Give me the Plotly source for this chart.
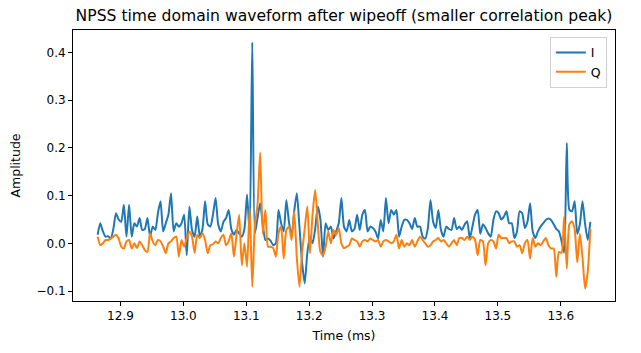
import numpy as np
import plotly.graph_objects as go

# Sample timing (ms)
t_start = 12.8637
t_step = 1.0 / 240.0

I_vals = [
    0.018, 0.042, 0.025, 0.014, 0.015, 0.010, 0.030, 0.063, 0.050, 0.045,
    0.081, 0.014, 0.081, 0.014, 0.042, 0.035, 0.053, 0.028, 0.030, 0.053,
    0.014, 0.035, 0.028, 0.063, 0.088, 0.025, 0.042, 0.060, 0.105, 0.025,
    0.042, 0.035, 0.042, 0.060, -0.025, 0.077, 0.028, 0.014, 0.056, 0.014,
    0.030, 0.088, 0.040, 0.035, 0.060, 0.095, 0.040, 0.025, 0.045, 0.053,
    0.070, 0.030, 0.018, 0.028, 0.021, 0.014, 0.030, 0.102, 0.021, 0.421,
    0.021, 0.053, 0.084, 0.040, 0.007, 0.010, 0.005, -0.004, 0.000, 0.070,
    0.042, 0.025, 0.091, 0.045, 0.014, 0.067, 0.105, 0.035, -0.040, -0.084,
    -0.020, 0.014, 0.000, 0.030, 0.077, 0.050, -0.028, 0.042, 0.028, 0.035,
    0.010, 0.025, 0.042, 0.095, 0.035, 0.025, 0.049, 0.025, 0.030, 0.060,
    0.028, 0.060, 0.070, 0.025, 0.035, 0.032, 0.025, 0.010, 0.049, 0.025,
    0.095, 0.042, 0.070, 0.060, 0.070, 0.014, 0.035, 0.049, 0.049, 0.042,
    0.030, 0.053, 0.035, 0.035, 0.014, 0.010, 0.032, 0.091, 0.045, 0.032,
    0.070, 0.028, 0.014, 0.035, 0.030, 0.028, 0.053, 0.030, 0.035, 0.028,
    0.039, 0.046, 0.010, 0.035, 0.060, 0.070, 0.020, 0.040, 0.032, 0.021,
    0.014, 0.049, 0.067, 0.063, 0.050, 0.056, 0.067, 0.042, 0.042, 0.011,
    0.025, 0.067, 0.063, 0.032, 0.045, 0.084, 0.025, 0.011, 0.025, 0.035,
    0.042, 0.049, 0.052, 0.049, 0.040, 0.030, 0.025, 0.005, -0.020, 0.210,
    0.070, 0.067, 0.088, 0.020, 0.040, 0.088, 0.040, 0.007, 0.045,
]

Q_vals = [
    0.014, -0.004, 0.000, 0.007, 0.007, 0.010, 0.014, 0.018, 0.010, -0.007,
    -0.011, 0.004, 0.007, -0.011, 0.000, -0.010, 0.004, -0.004, -0.014, -0.018,
    0.021, 0.004, -0.004, 0.007, 0.004, -0.007, -0.021, 0.000, 0.004, 0.011,
    0.014, -0.028, 0.007, -0.007, 0.011, 0.025, 0.014, -0.020, 0.018, 0.011,
    0.021, 0.007, -0.021, -0.004, -0.002, 0.004, 0.000, 0.011, 0.018, -0.004,
    0.004, 0.021, -0.028, 0.018, 0.060, -0.046, 0.000, -0.049, 0.074, -0.091,
    0.039, 0.080, 0.190, 0.020, 0.070, -0.007, -0.007, -0.010, -0.028, 0.021,
    0.035, -0.032, 0.028, 0.035, 0.007, 0.067, -0.030, -0.091, -0.020, 0.030,
    0.077, -0.021, 0.060, 0.112, 0.040, -0.018, -0.025, -0.007, 0.025, 0.000,
    0.028, 0.018, 0.032, 0.000, -0.010, -0.007, -0.004, 0.010, 0.007, 0.004,
    -0.007, 0.004, 0.007, 0.004, 0.010, 0.007, 0.004, 0.007, -0.007, 0.004,
    0.007, 0.004, 0.000, 0.004, 0.018, -0.011, 0.007, -0.007, 0.000, -0.004,
    0.007, -0.007, 0.004, 0.014, 0.007, 0.000, -0.007, -0.004, 0.004, 0.007,
    0.011, 0.004, 0.007, 0.000, -0.007, 0.000, 0.007, -0.004, 0.011, 0.011,
    0.007, 0.014, 0.007, 0.014, 0.007, -0.025, 0.007, 0.004, -0.046, 0.000,
    0.007, 0.004, -0.011, 0.018, 0.011, 0.011, 0.011, 0.000, 0.004, 0.004,
    -0.007, -0.004, -0.021, 0.000, 0.007, -0.032, 0.011, -0.007, 0.000, -0.004,
    0.004, 0.011, -0.004, -0.011, -0.011, -0.070, -0.018, -0.020, 0.056, -0.053,
    0.040, 0.046, 0.030, -0.040, 0.020, -0.030, -0.095, -0.060, 0.030,
]

series_names = ["I", "Q"]
series_colors = ["#1f77b4", "#ff7f0e"]

x_tick_vals = [12.9, 13.0, 13.1, 13.2, 13.3, 13.4, 13.5, 13.6]
x_tick_text = ["12.9", "13.0", "13.1", "13.2", "13.3", "13.4", "13.5", "13.6"]
y_tick_vals = [-0.1, 0.0, 0.1, 0.2, 0.3, 0.4]
y_tick_text = ["\u22120.1", "0.0", "0.1", "0.2", "0.3", "0.4"]

title_text = "NPSS time domain waveform after wipeoff (smaller correlation peak)"
x_label = "Time (ms)"
y_label = "Amplitude"

n = min(len(I_vals), len(Q_vals))
t = t_start + t_step * np.arange(n)
I = np.array(I_vals[:n])
Q = np.array(Q_vals[:n])

fig = go.Figure()
for name, vals, col in zip(series_names, [I, Q], series_colors):
    fig.add_trace(go.Scatter(x=t, y=vals, mode="lines", name=name,
                             line=dict(color=col, width=2, shape="spline", smoothing=0.6)))

# matplotlib-like 5% margins
xmin, xmax = t.min(), t.max()
ymin = min(I.min(), Q.min())
ymax = max(I.max(), Q.max())
xpad = 0.05 * (xmax - xmin)
ypad = 0.05 * (ymax - ymin)

font_family = "DejaVu Sans"
axis_common = dict(showline=True, mirror=True, linecolor="black", linewidth=1,
                   ticks="outside", ticklen=4, tickcolor="black", showgrid=False,
                   zeroline=False, tickfont=dict(size=12, color="black", family=font_family))

fig.update_layout(
    width=641, height=353,
    margin=dict(l=73, r=26, t=30, b=52),
    paper_bgcolor="white", plot_bgcolor="white",
    font=dict(family=font_family, color="black"),
    title=dict(text=title_text, x=(73 + (641 - 26)) / 2 / 641, xanchor="center",
               y=1 - 16 / 353, yanchor="middle", font=dict(size=15.6, color="black")),
    xaxis=dict(range=[xmin - xpad, xmax + xpad], tickvals=x_tick_vals, ticktext=x_tick_text,
               title=dict(text=x_label, font=dict(size=12.5), standoff=8), **axis_common),
    yaxis=dict(range=[ymin - ypad, ymax + ypad], tickvals=y_tick_vals, ticktext=y_tick_text,
               title=dict(text=y_label, font=dict(size=12.5), standoff=13), **axis_common),
    legend=dict(x=0.985, xanchor="right", y=0.975, yanchor="top",
                bordercolor="#d0d0d0", borderwidth=1, bgcolor="rgba(255,255,255,0.8)",
                font=dict(size=12.5, color="black"), tracegroupgap=2),
    showlegend=True,
)

fig.write_html("out.html")
